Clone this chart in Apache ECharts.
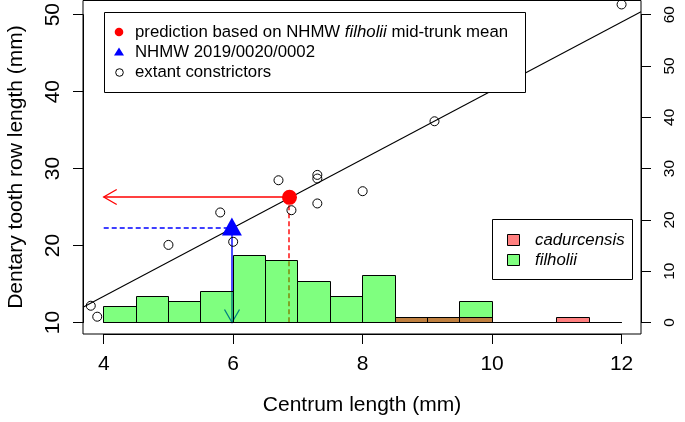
<!DOCTYPE html>
<html><head><meta charset="utf-8">
<script src="https://cdn.jsdelivr.net/npm/echarts@6/dist/echarts.min.js"></script>
<style>html,body{margin:0;padding:0;background:#fff}#c{width:685px;height:422px}</style>
</head><body><div id="c"></div>
<script>
// ---------- data ----------
const binBreaks = [4, 4.5, 5, 5.5, 6, 6.5, 7, 7.5, 8, 8.5, 9, 9.5, 10, 10.5, 11, 11.5, 12];
const filholiiCounts = [3, 5, 4, 6, 13, 12, 8, 5, 9, 1, 1, 4, 0, 0, 0, 0];
const cadurcensisCounts = [0, 0, 0, 0, 0, 0, 0, 0, 0, 1, 1, 1, 0, 0, 1, 0];
const extantCentrum = [3.80, 3.90, 5.00, 5.80, 6.00, 6.70, 6.90, 7.30, 7.30, 7.30, 8.00, 9.11, 12.00];
const extantDentary = [12.16, 10.75, 20.0, 24.18, 20.4, 28.33, 24.47, 29.02, 28.55, 25.34, 26.92, 35.93, 50.98];
const fitLineX = [3.68, 12.30];
const fitLineY = [11.96, 50.03];
const predictionPoint = [6.87, 26.13];
const specimenPoint = [5.98, 22.12];
const guideEndX = 4;
const histBaseY = 10;      // left-axis value where histogram counts are zero
const histTopY = 50;       // left-axis value matching count 60
const xTicks = [4, 12, 2];       // min, max, step
const leftTicks = [10, 50, 10];
const rightTicks = [0, 60, 10];

// ---------- layout ----------
const W = 685, H = 422;
const G = { left: 83, right: 44, top: 0.5, bottom: 88 };
const X_MIN = 3.68, X_MAX = 12.30;
const Y_MIN = 8.52, Y_MAX = 51.49;
const toCount = y => (y - histBaseY) * (rightTicks[1] - rightTicks[0]) / (histTopY - histBaseY) + rightTicks[0];
const C_MIN = toCount(Y_MIN), C_MAX = toCount(Y_MAX);
const boxW = W - G.left - G.right, boxH = H - G.top - G.bottom;
const px = x => G.left + (x - X_MIN) / (X_MAX - X_MIN) * boxW;
const py = y => G.top + (Y_MAX - y) / (Y_MAX - Y_MIN) * boxH;

const FF = '"Liberation Sans", Arial, Helvetica, sans-serif';
const AX = { show: true, lineStyle: { color: '#000', width: 1 } };
const TK = { show: true, length: 10, inside: false, lineStyle: { color: '#000', width: 1 } };
const snap = v => Math.round(v - 0.5) + 0.5;

const chart = echarts.init(document.getElementById('c'), null, { renderer: 'canvas' });

function histItems(counts) {
  return counts.map((c, i) => [binBreaks[i], binBreaks[i + 1], c]);
}
function histRender(fill) {
  return function (params, api) {
    const p0 = api.coord([api.value(0), 0]);
    const p1 = api.coord([api.value(1), api.value(2)]);
    const x0 = snap(p0[0]), x1 = snap(p1[0]);
    const y0 = snap(p0[1]), y1 = snap(p1[1]);
    return {
      type: 'rect',
      shape: { x: x0, y: y1, width: x1 - x0, height: y0 - y1 },
      style: { fill: fill, stroke: '#000', lineWidth: 1 }
    };
  };
}
// straight segments [x0, y0, x1, y1]; arrows get an open head at the end
const guideColors = ['#ff0000', '#0000ff', '#ff0000', '#0000ff'];
const guideDashed = [false, false, true, true];
const guideArrow = [true, true, false, false];
const guideData = [
  [predictionPoint[0], predictionPoint[1], guideEndX, predictionPoint[1]],
  [specimenPoint[0], specimenPoint[1], specimenPoint[0], histBaseY],
  [predictionPoint[0], predictionPoint[1], predictionPoint[0], histBaseY],
  [guideEndX, specimenPoint[1], specimenPoint[0], specimenPoint[1]]
];
function guideRender(params, api) {
  const i = params.dataIndex;
  const a = api.coord([api.value(0), api.value(1)]);
  const b = api.coord([api.value(2), api.value(3)]);
  if (Math.abs(a[0] - b[0]) < 0.01) { a[0] = b[0] = Math.round(a[0]); }
  if (Math.abs(a[1] - b[1]) < 0.01) { a[1] = b[1] = Math.round(a[1]); }
  const col = guideColors[i];
  const children = [{ type: 'polyline', shape: { points: [a, b] },
    style: { stroke: col, lineWidth: 1.4, fill: null, lineDash: guideDashed[i] ? [5, 3] : null } }];
  if (guideArrow[i]) {
    const ang = Math.atan2(b[1] - a[1], b[0] - a[0]);
    const L = 15, th = Math.PI / 6;
    const b1 = [b[0] - L * Math.cos(ang - th), b[1] - L * Math.sin(ang - th)];
    const b2 = [b[0] - L * Math.cos(ang + th), b[1] - L * Math.sin(ang + th)];
    children.push({ type: 'polyline', shape: { points: [b1, b, b2] }, style: { stroke: col, lineWidth: 1.3, fill: null } });
  }
  return { type: 'group', children: children };
}

const leg1 = { x: 104, y: 12, w: 421, h: 80 };
const leg2 = { x: 492, y: 219, w: 140, h: 60 };
const LF = '16.8px ' + FF;

const option = {
  animation: false,
  backgroundColor: '#fff',
  grid: [
    { left: G.left, right: G.right, top: G.top, bottom: G.bottom, show: true, borderColor: '#000', borderWidth: 1, backgroundColor: 'transparent', containLabel: false },
    { left: px(xTicks[0]), right: W - px(xTicks[1]), top: G.top, bottom: G.bottom, containLabel: false },
    { left: G.left, right: G.right, top: py(leftTicks[1]), bottom: H - py(leftTicks[0]), containLabel: false }
  ],
  xAxis: [
    { type: 'value', gridIndex: 0, min: X_MIN, max: X_MAX, show: false },
    { type: 'value', gridIndex: 1, min: xTicks[0], max: xTicks[1], interval: xTicks[2], position: 'bottom',
      axisLine: AX, axisTick: TK, splitLine: { show: false },
      axisLabel: { color: '#000', fontSize: 21, fontFamily: FF, margin: 20 } },
    { type: 'value', gridIndex: 2, min: 0, max: 1, show: false }
  ],
  yAxis: [
    { type: 'value', gridIndex: 0, min: Y_MIN, max: Y_MAX, show: false },
    { type: 'value', gridIndex: 0, min: C_MIN, max: C_MAX, show: false },
    { type: 'value', gridIndex: 1, min: 0, max: 1, show: false },
    { type: 'value', gridIndex: 2, min: leftTicks[0], max: leftTicks[1], interval: leftTicks[2], position: 'left',
      axisLine: AX, axisTick: TK, splitLine: { show: false },
      axisLabel: { color: '#000', fontSize: 21, fontFamily: FF, rotate: 90, margin: 19 } },
    { type: 'value', gridIndex: 2, min: rightTicks[0], max: rightTicks[1], interval: rightTicks[2], position: 'right',
      axisLine: AX, axisTick: TK, splitLine: { show: false },
      axisLabel: { color: '#000', fontSize: 15.5, fontFamily: FF, rotate: 90, margin: 21 } }
  ],
  series: [
    { type: 'custom', xAxisIndex: 0, yAxisIndex: 0, z: 1, silent: true,
      encode: { x: [0, 2], y: [1, 3] }, data: guideData, renderItem: guideRender },
    { type: 'custom', xAxisIndex: 0, yAxisIndex: 1, z: 2, silent: true,
      encode: { x: [0, 1], y: 2 }, data: histItems(filholiiCounts), renderItem: histRender('rgba(0,255,0,0.5)') },
    { type: 'custom', xAxisIndex: 0, yAxisIndex: 1, z: 3, silent: true,
      encode: { x: [0, 1], y: 2 }, data: histItems(cadurcensisCounts), renderItem: histRender('rgba(255,0,0,0.5)') },
    { type: 'line', xAxisIndex: 0, yAxisIndex: 0, z: 4, symbol: 'none', silent: true,
      data: fitLineX.map((x, i) => [x, fitLineY[i]]),
      lineStyle: { color: '#000', width: 1.1 } },
    { type: 'scatter', xAxisIndex: 0, yAxisIndex: 0, z: 5, silent: true,
      data: extantCentrum.map((x, i) => [x, extantDentary[i]]),
      symbol: 'circle', symbolSize: 9,
      itemStyle: { color: 'rgba(255,255,255,0)', borderColor: '#000', borderWidth: 1, opacity: 1 } },
    { type: 'scatter', xAxisIndex: 0, yAxisIndex: 0, z: 6, silent: true,
      data: [predictionPoint], symbol: 'circle', symbolSize: 15,
      itemStyle: { color: '#ff0000', opacity: 1 } },
    { type: 'scatter', xAxisIndex: 0, yAxisIndex: 0, z: 6, silent: true,
      data: [specimenPoint], symbol: 'triangle', symbolSize: [20, 18], symbolOffset: [0, -2],
      itemStyle: { color: '#0000ff', opacity: 1 } }
  ],
  graphic: [
    { type: 'text', x: 362, y: 405, z: 100, style: { text: 'Centrum length (mm)', font: '21px ' + FF, fill: '#000', align: 'center', verticalAlign: 'middle' } },
    { type: 'text', x: 16, y: 167, rotation: Math.PI / 2, z: 100, style: { text: 'Dentary tooth row length (mm)', font: '21px ' + FF, fill: '#000', align: 'center', verticalAlign: 'middle' } },
    // legend 1
    { type: 'rect', z: 100, shape: { x: leg1.x + 0.5, y: leg1.y + 0.5, width: leg1.w, height: leg1.h }, style: { fill: '#fff', stroke: '#000', lineWidth: 1 } },
    { type: 'circle', z: 101, shape: { cx: 119, cy: 32, r: 4.3 }, style: { fill: '#ff0000' } },
    { type: 'polygon', z: 101, shape: { points: [[114, 55.5], [124, 55.5], [119, 47.5]] }, style: { fill: '#0000ff' } },
    { type: 'circle', z: 101, shape: { cx: 119.5, cy: 72.5, r: 3.8 }, style: { fill: 'none', stroke: '#000', lineWidth: 1 } },
    { type: 'text', z: 101, x: 135, y: 32, style: { text: 'prediction based on NHMW {i|filholii} mid-trunk mean', font: LF, fill: '#000', align: 'left', verticalAlign: 'middle', rich: { i: { font: 'italic ' + LF, fill: '#000' } } } },
    { type: 'text', z: 101, x: 135, y: 52, style: { text: 'NHMW 2019/0020/0002', font: LF, fill: '#000', align: 'left', verticalAlign: 'middle' } },
    { type: 'text', z: 101, x: 135, y: 72, style: { text: 'extant constrictors', font: LF, fill: '#000', align: 'left', verticalAlign: 'middle' } },
    // legend 2
    { type: 'rect', z: 100, shape: { x: leg2.x + 0.5, y: leg2.y + 0.5, width: leg2.w, height: leg2.h }, style: { fill: '#fff', stroke: '#000', lineWidth: 1 } },
    { type: 'rect', z: 101, shape: { x: 507.5, y: 234.5, width: 12, height: 11 }, style: { fill: 'rgba(255,0,0,0.5)', stroke: '#000', lineWidth: 1 } },
    { type: 'rect', z: 101, shape: { x: 507.5, y: 254.5, width: 12, height: 11 }, style: { fill: 'rgba(0,255,0,0.5)', stroke: '#000', lineWidth: 1 } },
    { type: 'text', z: 101, x: 535, y: 240, style: { text: 'cadurcensis', font: 'italic ' + LF, fill: '#000', align: 'left', verticalAlign: 'middle' } },
    { type: 'text', z: 101, x: 535, y: 260, style: { text: 'filholii', font: 'italic ' + LF, fill: '#000', align: 'left', verticalAlign: 'middle' } }
  ]
};
chart.setOption(option);
</script>
</body></html>
